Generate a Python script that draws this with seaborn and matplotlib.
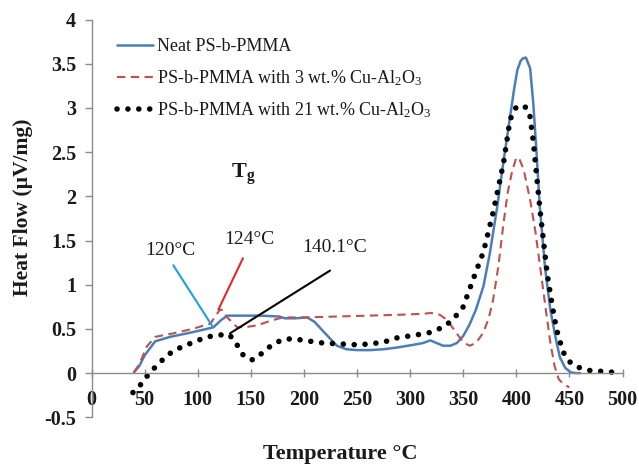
import matplotlib
matplotlib.use("Agg")
import matplotlib.pyplot as plt
import seaborn as sns
import pandas as pd

# ---------------- data ----------------
neat_x = [40, 45, 50, 60, 74, 90, 105, 112, 115, 122, 128, 140, 160, 177, 182, 192, 203, 210,
          220, 231, 240, 250, 262, 275, 288, 303, 312, 319, 325, 331, 338, 344, 350, 356, 362,
          369, 375, 382, 388, 394, 398, 401, 404, 406, 409, 413, 416, 419, 422, 427, 432, 437,
          441, 446, 451, 456, 460]
neat_y = [0.01, 0.08, 0.20, 0.36, 0.41, 0.45, 0.49, 0.51, 0.52, 0.60, 0.65, 0.65, 0.65, 0.64,
          0.62, 0.62, 0.63, 0.58, 0.45, 0.31, 0.27, 0.26, 0.26, 0.27, 0.29, 0.32, 0.34, 0.37,
          0.34, 0.31, 0.31, 0.34, 0.42, 0.55, 0.72, 0.98, 1.35, 1.88, 2.40, 2.89, 3.22, 3.43,
          3.53, 3.56, 3.57, 3.45, 3.05, 2.50, 1.90, 1.20, 0.72, 0.40, 0.18, 0.06, 0.01, 0.0, 0.0]

cu3_x = [40, 45, 52, 60, 77, 95, 112, 117, 121, 124, 127, 132, 137, 145, 156, 168, 180, 200,
         230, 260, 290, 310, 320, 328, 335, 342, 350, 356, 362, 369, 374, 378, 383, 388, 392,
         396, 400, 403, 407, 413, 418, 423, 428, 432, 436, 440, 445, 450]
cu3_y = [0.01, 0.10, 0.30, 0.41, 0.45, 0.50, 0.56, 0.65, 0.72, 0.71, 0.64, 0.58, 0.52, 0.52,
         0.54, 0.59, 0.63, 0.63, 0.64, 0.65, 0.66, 0.67, 0.68, 0.66, 0.60, 0.48, 0.35, 0.31,
         0.34, 0.46, 0.62, 0.82, 1.20, 1.70, 2.05, 2.28, 2.44, 2.42, 2.30, 1.96, 1.60, 1.15,
         0.70, 0.35, 0.08, -0.07, -0.13, -0.16]

cu21_x = [39, 45, 50, 56, 62, 71, 80, 90, 100, 109, 120, 129, 134, 138, 143, 148, 152, 157,
          161, 170, 180, 190, 200, 218, 235, 250, 262, 275, 288, 305, 319, 331, 340, 350, 359,
          369, 378, 388, 394, 398, 401, 405, 410, 413, 416, 419, 422, 426, 429, 434, 438, 444,
          450, 457, 469, 480, 491]
cu21_y = [-0.22, -0.15, -0.07, 0.02, 0.09, 0.20, 0.27, 0.32, 0.37, 0.41, 0.43, 0.44, 0.38,
          0.30, 0.20, 0.16, 0.15, 0.19, 0.23, 0.32, 0.38, 0.39, 0.37, 0.34, 0.33, 0.32, 0.33,
          0.35, 0.40, 0.43, 0.46, 0.52, 0.60, 0.75, 1.05, 1.37, 1.81, 2.38, 2.86, 2.98, 3.02,
          3.03, 3.00, 2.90, 2.62, 2.25, 1.88, 1.45, 1.13, 0.75, 0.49, 0.24, 0.13, 0.07, 0.03,
          0.02, 0.01]

labels = ["Neat PS-b-PMMA",
          "PS-b-PMMA with 3 wt.% Cu-Al$_2$O$_3$",
          "PS-b-PMMA with 21 wt.% Cu-Al$_2$O$_3$"]

x_ticks = [0, 50, 100, 150, 200, 250, 300, 350, 400, 450, 500]
y_ticks = [-0.5, 0, 0.5, 1, 1.5, 2, 2.5, 3, 3.5, 4]
y_ticklabels = ["-0.5", "0", "0.5", "1", "1.5", "2", "2.5", "3", "3.5", "4"]

tg_labels = ["120\u00b0C", "124\u00b0C", "140.1\u00b0C"]
tg_text_x = [74, 149, 229]
tg_text_y = [1.39, 1.51, 1.42]
tg_line_x0 = [77, 142.6, 224.6]
tg_line_y0 = [1.22, 1.30, 1.16]
tg_line_x1 = [114.4, 119.5, 130.4]
tg_line_y1 = [0.52, 0.72, 0.45]

# ---------------- style ----------------
sns.set_theme(style="white")
plt.rcParams['font.family'] = ['Liberation Serif', 'DejaVu Serif']
plt.rcParams['mathtext.fontset'] = 'custom'
plt.rcParams['mathtext.rm'] = 'Liberation Serif'
plt.rcParams['mathtext.it'] = 'Liberation Serif:italic'
plt.rcParams['mathtext.bf'] = 'Liberation Serif:bold'

txt_color = "#1a1a1a"
axis_color = "#8c8c8c"

fig = plt.figure(figsize=(6.39, 4.66), dpi=100)
ax = fig.add_axes([0.1432, 0.1045, 0.8310, 0.8535])

df_neat = pd.DataFrame({"T": neat_x, "HF": neat_y})
df_3 = pd.DataFrame({"T": cu3_x, "HF": cu3_y})
df_21 = pd.DataFrame({"T": cu21_x, "HF": cu21_y})

sns.lineplot(data=df_neat, x="T", y="HF", ax=ax, color="#4a7ebb", lw=1.8,
             sort=False, label=labels[0])
sns.lineplot(data=df_3, x="T", y="HF", ax=ax, color="#c0504d", lw=1.5,
             linestyle=(0, (4, 2.6)), sort=False, label=labels[1])
sns.lineplot(data=df_21, x="T", y="HF", ax=ax, color="black", lw=4.0,
             linestyle=(0, (0.01, 1.95)), dash_capstyle="round", sort=False,
             label=labels[2])

# Tg annotations
ann_colors = ["#1ea0e0", "#e8262b", "black"]
for i in range(3):
    ax.plot([tg_line_x0[i], tg_line_x1[i]], [tg_line_y0[i], tg_line_y1[i]],
            color=ann_colors[i], lw=1.5)
    ax.text(tg_text_x[i], tg_text_y[i], tg_labels[i], fontsize=14,
            ha="center", va="center", color=txt_color)
ax.text(143, 2.25, r"$\mathbf{T_g}$", fontsize=16, ha="center", va="center",
        color=txt_color)

# axes
ax.set_xlim(0, 500)
ax.set_ylim(-0.5, 4)
ax.set_xticks(x_ticks)
ax.set_xticklabels([str(v) for v in x_ticks])
ax.set_yticks(y_ticks)
ax.set_yticklabels(y_ticklabels)

for s in ["top", "right"]:
    ax.spines[s].set_visible(False)
ax.spines["bottom"].set_position(("data", 0))
for s in ["left", "bottom"]:
    ax.spines[s].set_color(axis_color)
    ax.spines[s].set_linewidth(1.0)

ax.tick_params(axis="x", direction="inout", length=6, width=1.0, color=axis_color,
               pad=9.5, labelsize=14.5, labelcolor=txt_color, bottom=True)
ax.tick_params(axis="y", direction="out", length=5, width=1.0, color=axis_color,
               pad=6, labelsize=14.5, labelcolor=txt_color, left=True)
for lab in ax.get_xticklabels() + ax.get_yticklabels():
    lab.set_fontweight("bold")

ax.set_xlabel("Temperature \u00b0C", fontsize=16, fontweight="bold", color=txt_color)
ax.xaxis.set_label_coords(0.468, -0.066)
ax.set_ylabel("Heat Flow (\u00b5V/mg)", fontsize=15.5, fontweight="bold", color=txt_color)
ax.yaxis.set_label_coords(-0.111, 0.527)

leg = ax.legend(loc="upper left", bbox_to_anchor=(0.035, 0.972), frameon=False,
                fontsize=13, handlelength=2.0, handletextpad=0.2, labelspacing=0.72,
                borderaxespad=0.0)
for t in leg.get_texts():
    t.set_color(txt_color)

fig.savefig("out.png", dpi=100)
